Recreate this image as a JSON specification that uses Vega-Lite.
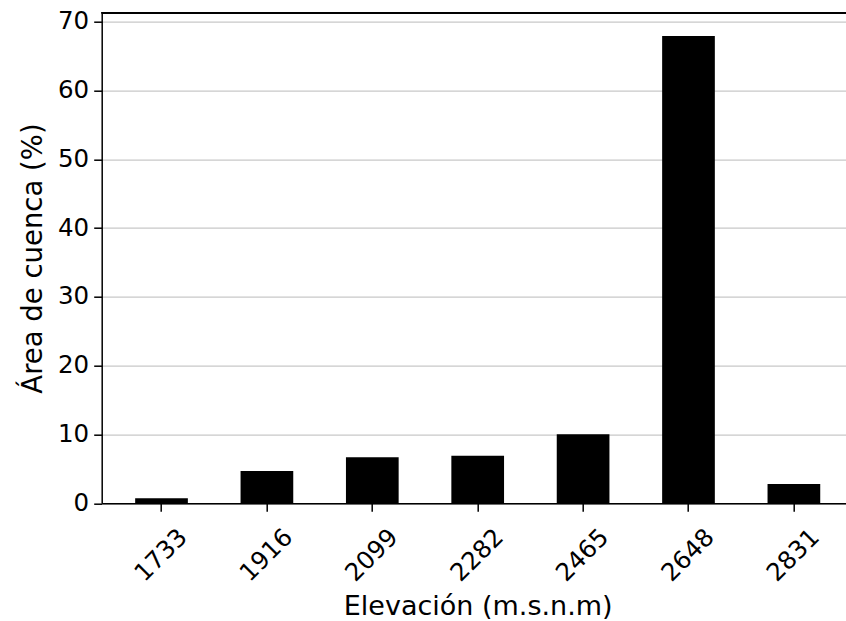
{
  "$schema": "https://vega.github.io/schema/vega-lite/v6.json",
  "autosize": {"type": "none"},
  "padding": {"left": 101.7, "top": 12.7, "right": 0, "bottom": 117.7},
  "width": 744.3,
  "height": 490.6,
  "background": "white",
  "config": {
    "view": {"stroke": null},
    "font": "DejaVu Sans",
    "axis": {
      "labelFont": "DejaVu Sans",
      "titleFont": "DejaVu Sans",
      "labelColor": "black",
      "titleColor": "black",
      "titleFontWeight": "normal",
      "domainColor": "black",
      "domainWidth": 1.5,
      "tickColor": "black",
      "tickWidth": 1.5,
      "tickSize": 8
    }
  },
  "data": {
    "values": [
      {"elev": "1733", "area": 0.75},
      {"elev": "1916", "area": 4.7},
      {"elev": "2099", "area": 6.69},
      {"elev": "2282", "area": 6.92},
      {"elev": "2465", "area": 10.03},
      {"elev": "2648", "area": 67.9},
      {"elev": "2831", "area": 2.8}
    ]
  },
  "layer": [
    {
      "mark": {"type": "bar", "color": "black"},
      "encoding": {
        "x": {
          "field": "elev",
          "type": "ordinal",
          "sort": null,
          "scale": {"range": [0, 752], "paddingInner": 0.5, "paddingOuter": 0.3175, "align": 0.5},
          "axis": {
            "title": "Elevación (m.s.n.m)",
            "titleFontSize": 27,
            "titleX": 376,
            "titleY": 111,
            "titleBaseline": "alphabetic",
            "labelFontSize": 24.5,
            "labelAngle": -45,
            "labelAlign": "center",
            "labelBaseline": "middle",
            "labelPadding": 44,
            "grid": false
          }
        },
        "y": {
          "field": "area",
          "type": "quantitative",
          "scale": {"domain": [0, 71.3], "nice": false, "zero": true},
          "axis": {
            "title": "Área de cuenca (%)",
            "titleFontSize": 27.5,
            "labelFontSize": 24.5,
            "labelPadding": 5,
            "values": [0, 10, 20, 30, 40, 50, 60, 70],
            "grid": true,
            "gridColor": "#c8c8c8",
            "gridWidth": 1.3,
            "titlePadding": 10
          }
        }
      }
    },
    {
      "mark": {"type": "rule", "color": "black", "strokeWidth": 1.5},
      "encoding": {
        "y": {"datum": 71.3, "type": "quantitative"}
      }
    }
  ]
}
